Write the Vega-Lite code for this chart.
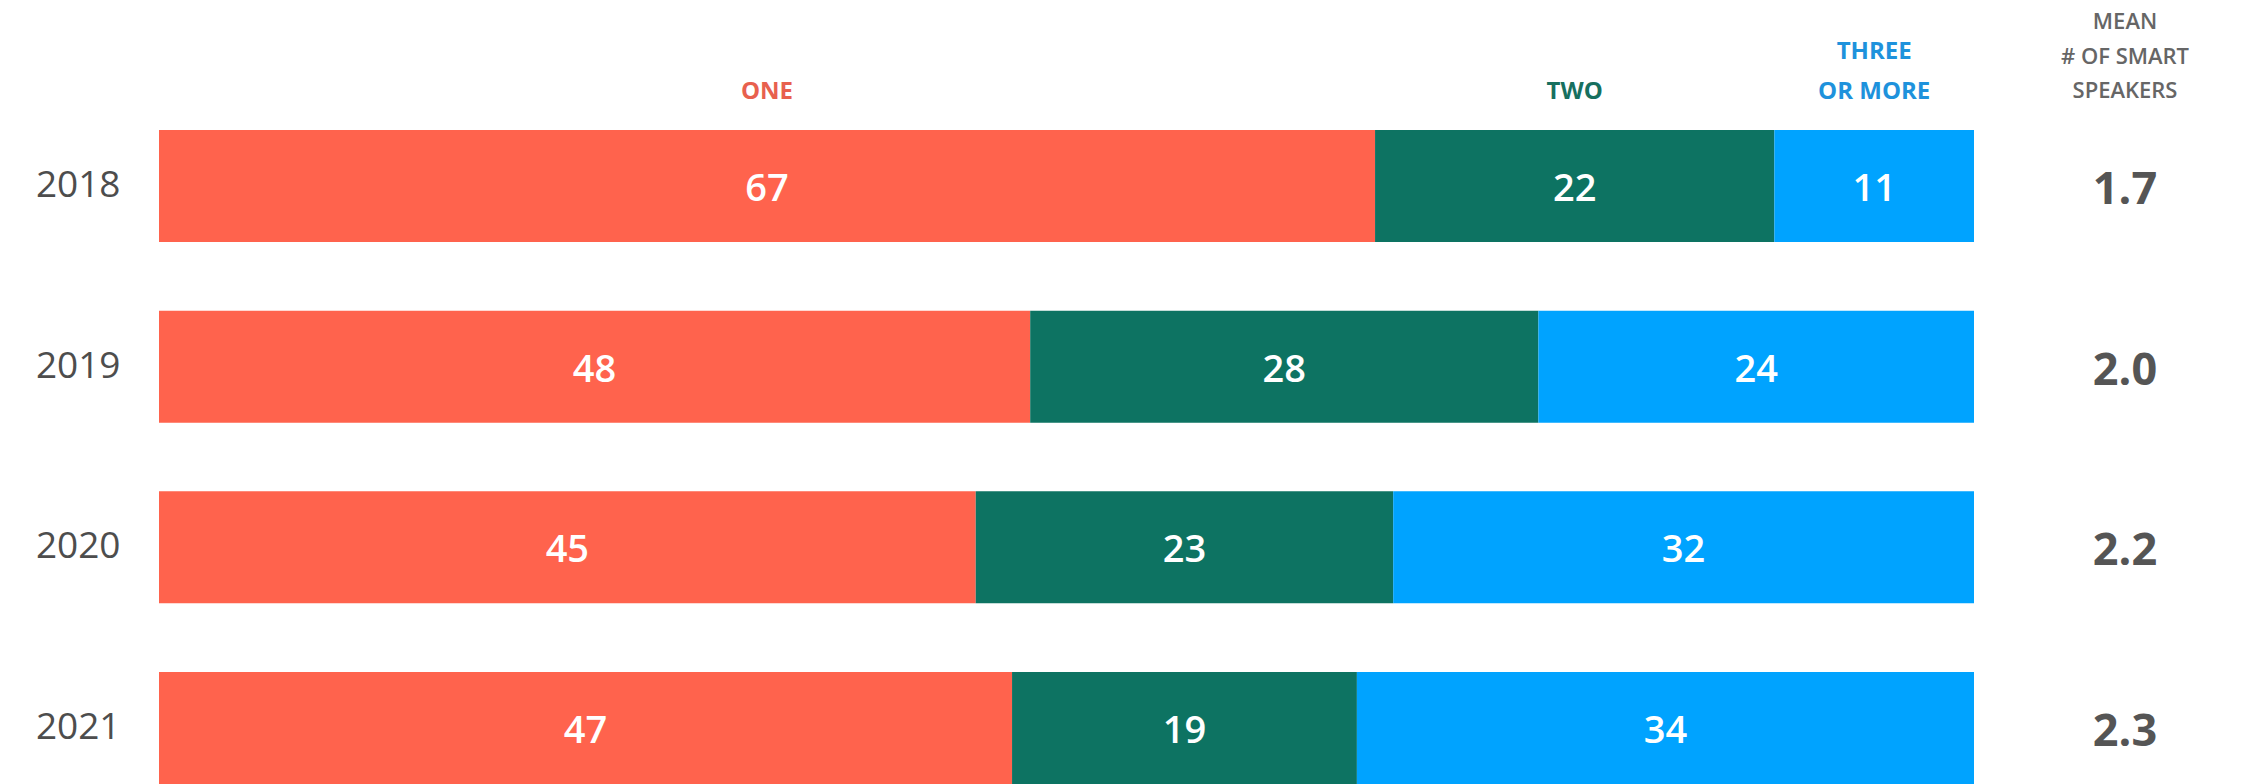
{
  "$schema": "https://vega.github.io/schema/vega-lite/v6.json",
  "width": 1815,
  "height": 654,
  "autosize": {"type": "none"},
  "padding": {"left": 159, "top": 130, "right": 272, "bottom": 0},
  "background": "white",
  "config": {"view": {"stroke": null}, "font": "Open Sans"},
  "datasets": {
    "shares": [
      {"year": "2018", "cat": "ONE", "rank": 1, "value": 67},
      {"year": "2018", "cat": "TWO", "rank": 2, "value": 22},
      {"year": "2018", "cat": "THREE\nOR MORE", "rank": 3, "value": 11},
      {"year": "2019", "cat": "ONE", "rank": 1, "value": 48},
      {"year": "2019", "cat": "TWO", "rank": 2, "value": 28},
      {"year": "2019", "cat": "THREE\nOR MORE", "rank": 3, "value": 24},
      {"year": "2020", "cat": "ONE", "rank": 1, "value": 45},
      {"year": "2020", "cat": "TWO", "rank": 2, "value": 23},
      {"year": "2020", "cat": "THREE\nOR MORE", "rank": 3, "value": 32},
      {"year": "2021", "cat": "ONE", "rank": 1, "value": 47},
      {"year": "2021", "cat": "TWO", "rank": 2, "value": 19},
      {"year": "2021", "cat": "THREE\nOR MORE", "rank": 3, "value": 34}
    ],
    "means": [
      {"year": "2018", "mean": 1.7},
      {"year": "2019", "mean": 2.0},
      {"year": "2020", "mean": 2.2},
      {"year": "2021", "mean": 2.3}
    ]
  },
  "resolve": {"scale": {"color": "independent"}},
  "layer": [
    {
      "data": {"name": "shares"},
      "transform": [
        {"stack": "value", "groupby": ["year"], "sort": [{"field": "rank", "order": "ascending"}], "as": ["x0", "x1"]}
      ],
      "mark": {"type": "bar"},
      "encoding": {
        "y": {
          "field": "year", "type": "nominal",
          "scale": {"paddingInner": 0.38, "paddingOuter": 0},
          "axis": {"title": null, "domain": false, "ticks": false, "labelFontSize": 37, "labelColor": "#4d4d4d", "labelPadding": 39, "labelFontWeight": 500, "labelFont": "Open Sans", "labelBaseline": "middle"}
        },
        "x": {"field": "x0", "type": "quantitative", "scale": {"domain": [0, 100], "nice": false, "zero": true}, "axis": null},
        "x2": {"field": "x1"},
        "color": {"field": "cat", "type": "nominal", "scale": {"domain": ["ONE", "TWO", "THREE\nOR MORE"], "range": ["#FF634D", "#0D7362", "#00A3FF"]}, "legend": null}
      }
    },
    {
      "data": {"name": "shares"},
      "transform": [
        {"stack": "value", "groupby": ["year"], "sort": [{"field": "rank", "order": "ascending"}], "as": ["x0", "x1"]},
        {"fold": ["x0", "x1"], "as": ["edge", "pos"]}
      ],
      "mark": {"type": "text", "color": "white", "fontSize": 38, "fontWeight": 600, "baseline": "middle", "align": "center", "dy": 4},
      "encoding": {
        "y": {"field": "year", "type": "nominal"},
        "x": {"aggregate": "mean", "field": "pos", "type": "quantitative"},
        "text": {"field": "value", "type": "quantitative"},
        "detail": {"field": "cat"}
      }
    },
    {
      "data": {"name": "shares"},
      "transform": [
        {"filter": {"field": "year", "equal": "2018"}},
        {"stack": "value", "groupby": ["year"], "sort": [{"field": "rank", "order": "ascending"}], "as": ["x0", "x1"]},
        {"fold": ["x0", "x1"], "as": ["edge", "pos"]},
        {"filter": {"field": "rank", "lt": 3}}
      ],
      "mark": {"type": "text", "fontSize": 24, "fontWeight": 700, "baseline": "alphabetic", "align": "center", "dy": -87},
      "encoding": {
        "y": {"field": "year", "type": "nominal"},
        "x": {"aggregate": "mean", "field": "pos", "type": "quantitative"},
        "text": {"field": "cat", "type": "nominal"},
        "color": {"field": "cat", "type": "nominal", "scale": {"domain": ["ONE", "TWO", "THREE\nOR MORE"], "range": ["#E8604E", "#17705F", "#1E92DC"]}, "legend": null}
      }
    },
    {
      "data": {"name": "shares"},
      "transform": [
        {"filter": {"field": "year", "equal": "2018"}},
        {"stack": "value", "groupby": ["year"], "sort": [{"field": "rank", "order": "ascending"}], "as": ["x0", "x1"]},
        {"fold": ["x0", "x1"], "as": ["edge", "pos"]},
        {"filter": {"field": "rank", "equal": 3}}
      ],
      "mark": {"type": "text", "fontSize": 24, "fontWeight": 700, "baseline": "alphabetic", "align": "center", "lineHeight": 40, "lineBreak": "\n", "dy": -127, "color": "#1E92DC"},
      "encoding": {
        "y": {"field": "year", "type": "nominal"},
        "x": {"aggregate": "mean", "field": "pos", "type": "quantitative"},
        "text": {"field": "cat", "type": "nominal"}
      }
    },
    {
      "data": {"name": "means"},
      "mark": {"type": "text", "fontSize": 45, "fontWeight": 700, "color": "#555555", "baseline": "middle", "align": "center", "dx": 151, "dy": 4},
      "encoding": {
        "y": {"field": "year", "type": "nominal"},
        "x": {"datum": 100, "type": "quantitative"},
        "text": {"field": "mean", "type": "quantitative", "format": ".1f"}
      }
    },
    {
      "data": {"name": "means"},
      "transform": [{"filter": {"field": "year", "equal": "2018"}}],
      "mark": {"type": "text", "text": ["MEAN", "# OF SMART", "SPEAKERS"], "fontSize": 22, "fontWeight": 600, "color": "#666666", "baseline": "alphabetic", "align": "center", "lineHeight": 34.5, "dx": 151, "dy": -157},
      "encoding": {
        "y": {"field": "year", "type": "nominal"},
        "x": {"datum": 100, "type": "quantitative"}
      }
    }
  ]
}
